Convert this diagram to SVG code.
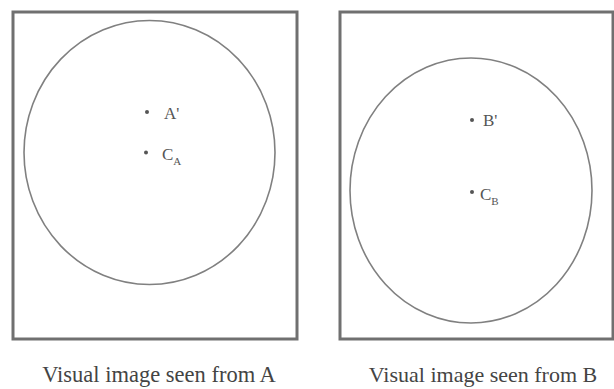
<svg xmlns="http://www.w3.org/2000/svg" width="614" height="389" viewBox="0 0 614 389">
<style>
.frame{fill:none;stroke:#707070;stroke-width:3}
.circ{fill:none;stroke:#808080;stroke-width:1.6}
.dot{fill:#555}
.lbl{font-family:"Liberation Serif",serif;font-size:17px;fill:#555}
.sub{font-size:11px}
.cap{font-family:"Liberation Serif",serif;font-size:22px;fill:#444}
</style>
<rect width="614" height="389" fill="#fff"/>
<g id="panelA">
<rect class="frame" x="13" y="12" width="284" height="327"/>
<ellipse class="circ" cx="149.5" cy="152.5" rx="125.5" ry="132"/>
<circle class="dot" cx="147" cy="112" r="2"/>
<text class="lbl" x="164" y="119">A'</text>
<circle class="dot" cx="146" cy="152.5" r="2"/>
<text class="lbl" x="162" y="160">C<tspan class="sub" dy="5">A</tspan></text>
<text class="cap" x="159" y="382" text-anchor="middle" style="font-size:22.5px">Visual image seen from A</text>
</g>
<g id="panelB">
<rect class="frame" x="340" y="12" width="273" height="327"/>
<ellipse class="circ" cx="471" cy="190.5" rx="121" ry="132.5"/>
<circle class="dot" cx="472" cy="120" r="2"/>
<text class="lbl" x="483" y="126">B'</text>
<circle class="dot" cx="472" cy="192" r="2"/>
<text class="lbl" x="480" y="200">C<tspan class="sub" dy="5">B</tspan></text>
<text class="cap" x="483" y="382" text-anchor="middle">Visual image seen from B</text>
</g>
<g id="connectors"/>
</svg>
